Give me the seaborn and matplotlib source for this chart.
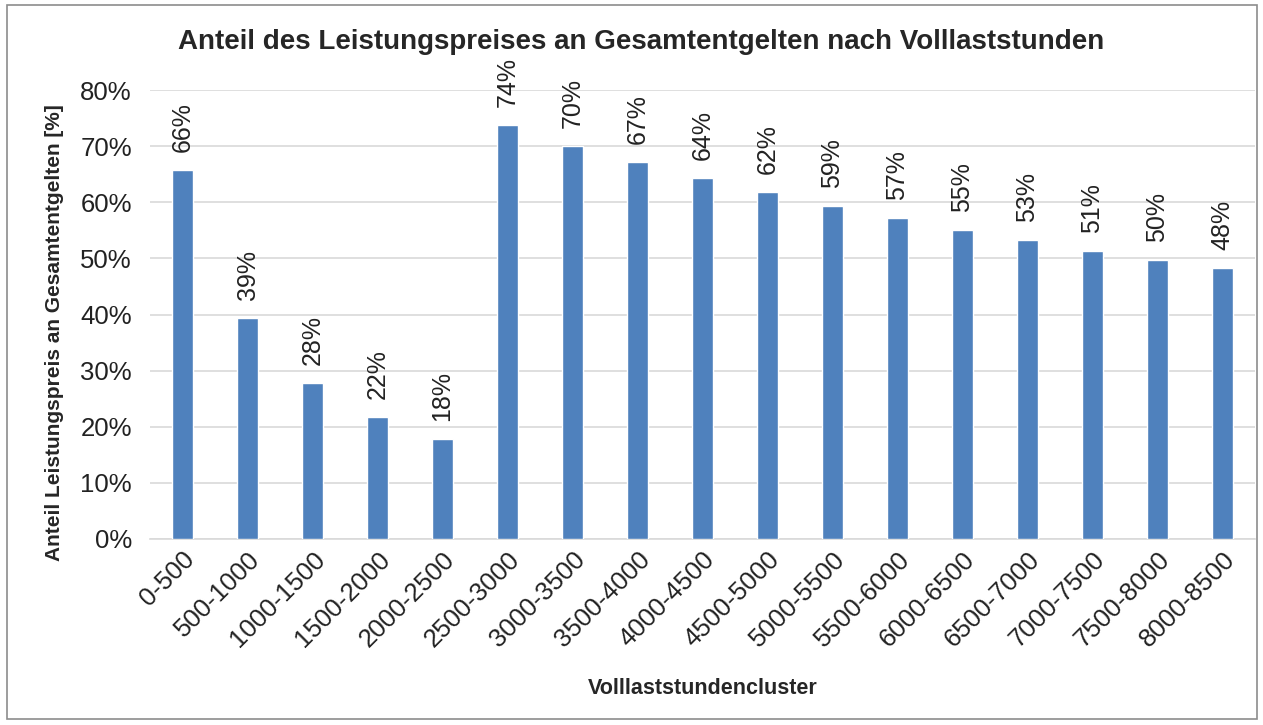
import matplotlib
matplotlib.use("Agg")
import matplotlib.pyplot as plt
import seaborn as sns
import pandas as pd
from matplotlib.patches import Rectangle
from matplotlib.ticker import FuncFormatter

cluster = ["0-500", "500-1000", "1000-1500", "1500-2000", "2000-2500",
           "2500-3000", "3000-3500", "3500-4000", "4000-4500", "4500-5000",
           "5000-5500", "5500-6000", "6000-6500", "6500-7000", "7000-7500",
           "7500-8000", "8000-8500"]
anteil = [65.8, 39.3, 27.8, 21.7, 17.8, 73.8, 70.1, 67.2, 64.4, 61.9,
          59.4, 57.2, 55.1, 53.3, 51.4, 49.7, 48.3]

sns.set_theme(style="white")
plt.rcParams["font.family"] = ["Liberation Sans", "DejaVu Sans"]

df = pd.DataFrame({"cluster": cluster, "anteil": anteil})

fig = plt.figure(figsize=(12.63, 7.25), dpi=100)
ax = fig.add_axes([150 / 1263, 1 - 539 / 725, 1105 / 1263, 449 / 725])

sns.barplot(data=df, x="cluster", y="anteil", color="#4F81BD", width=0.31,
            saturation=1, ax=ax, zorder=3)

ax.set_ylim(0, 80)
ax.set_yticks(range(0, 81, 10))
ax.yaxis.set_major_formatter(FuncFormatter(lambda v, p: f"{v:.0f}%"))
ax.grid(axis="y", color="#d9d9d9", linewidth=1.2, zorder=0)
for s in ["top", "right", "left"]:
    ax.spines[s].set_visible(False)
ax.spines["bottom"].set_color("#d9d9d9")
ax.spines["bottom"].set_linewidth(1.2)
ax.tick_params(axis="both", length=0, labelsize=18.5, colors="#222222")
ax.tick_params(axis="y", pad=13)
ax.tick_params(axis="x", pad=6)
plt.setp(ax.get_xticklabels(), rotation=45, ha="right", rotation_mode="anchor")

for i, v in enumerate(anteil):
    ax.text(i, v + 3.2, f"{round(v):.0f}%", rotation=90, ha="center", va="bottom",
            fontsize=18, color="#222222")

ax.set_xlabel("Volllaststundencluster", fontsize=15.5, fontweight="bold", labelpad=19)
ax.set_ylabel("Anteil Leistungspreis an Gesamtentgelten [%]", fontsize=15,
              fontweight="bold")
ax.yaxis.set_label_coords(-0.078, 0.46)
fig.text(0.508, 1 - 42 / 725, "Anteil des Leistungspreises an Gesamtentgelten nach Volllaststunden",
         ha="center", va="center", fontsize=20, fontweight="bold")

fig.patches.append(Rectangle((7 / 1263, 1 - 719 / 725), 1250 / 1263, 714 / 725,
                             transform=fig.transFigure, fill=False,
                             edgecolor="#8c8c8c", linewidth=1.2))

fig.savefig("out.png", dpi=100)
